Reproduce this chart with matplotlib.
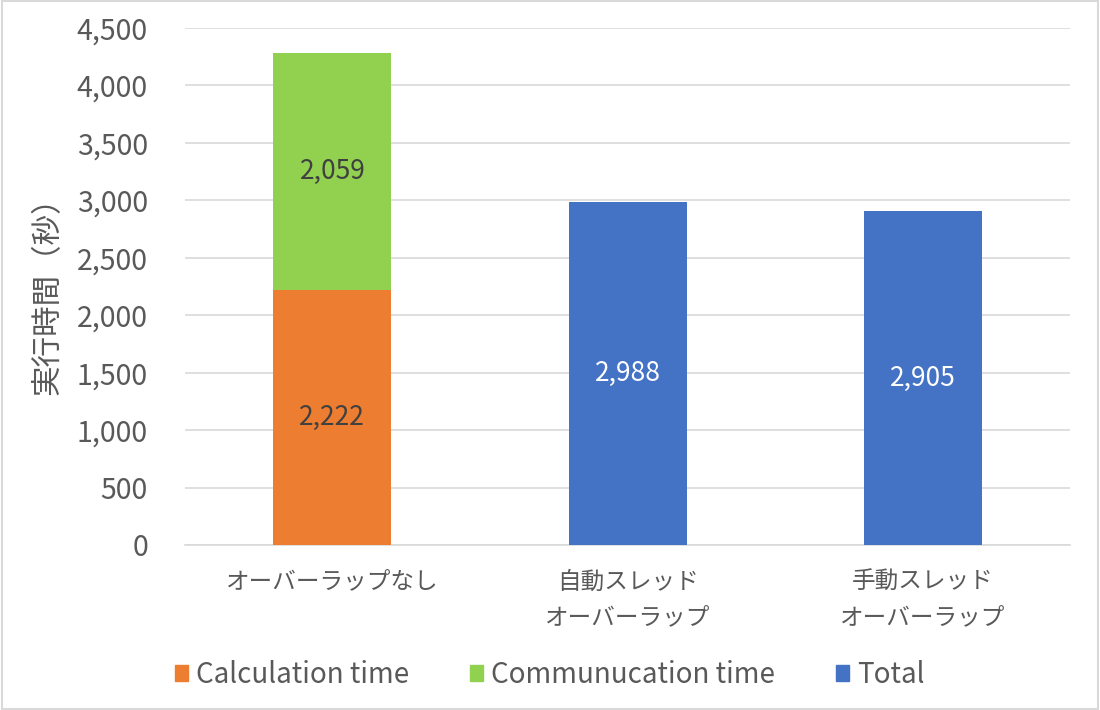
import matplotlib
matplotlib.use("Agg")
import matplotlib.pyplot as plt
from matplotlib.patches import Patch, Rectangle
import numpy as np

plt.rcParams['font.family'] = ['Noto Sans CJK JP', 'DejaVu Sans']

categories = ['オーバーラップなし', '自動スレッド\nオーバーラップ', '手動スレッド\nオーバーラップ']
calc_time = [2222, 0, 0]
comm_time = [2059, 0, 0]
total = [0, 2988, 2905]

c_calc = '#ED7D31'
c_comm = '#92D050'
c_total = '#4472C4'
grey = '#595959'

fig = plt.figure(figsize=(11, 7.1), dpi=100)
ax = fig.add_axes([0.168, 0.2324, 0.805, 0.7282])

x = np.arange(len(categories))
w = 0.4
ax.bar(x, calc_time, w, color=c_calc, zorder=3)
ax.bar(x, comm_time, w, bottom=calc_time, color=c_comm, zorder=3)
ax.bar(x, total, w, color=c_total, zorder=3)

# data labels
for i in range(len(x)):
    if calc_time[i]:
        ax.text(x[i], calc_time[i] / 2, f'{calc_time[i]:,}', ha='center', va='center',
                fontsize=19, color='#404040', zorder=4)
    if comm_time[i]:
        ax.text(x[i], calc_time[i] + comm_time[i] / 2, f'{comm_time[i]:,}', ha='center',
                va='center', fontsize=19, color='#404040', zorder=4)
    if total[i]:
        ax.text(x[i], total[i] / 2, f'{total[i]:,}', ha='center', va='center',
                fontsize=19, color='white', zorder=4)

ax.set_xlim(-0.5, 2.5)
ax.set_ylim(0, 4500)
ax.set_yticks(np.arange(0, 4501, 500))
ax.yaxis.set_major_formatter(matplotlib.ticker.FuncFormatter(lambda v, p: f'{int(v):,}'))
ax.set_xticks(x)
ax.set_xticklabels(categories, fontsize=17, color=grey, linespacing=1.7)
ax.tick_params(axis='y', labelsize=20.5, colors=grey, length=0, pad=26.5)
ax.tick_params(axis='x', length=0, pad=18.5)
ax.grid(axis='y', color='#D9D9D9', linewidth=1.2, zorder=0)
for s in ['top', 'right', 'left']:
    ax.spines[s].set_visible(False)
ax.spines['bottom'].set_color('#D9D9D9')
ax.spines['bottom'].set_linewidth(1.2)
fig.text(48 / 1100, 0.594, '実行時間（秒）', rotation=90, ha='center', va='center',
         fontsize=22, color=grey)

handles = [Patch(color=c_calc), Patch(color=c_comm), Patch(color=c_total)]
labels = ['Calculation time', 'Communucation time', 'Total']
fig.legend(handles, labels, loc='center', bbox_to_anchor=(0.5, 0.049), ncol=3,
           frameon=False, fontsize=20, handlelength=0.45, handleheight=0.5,
           handletextpad=0.3, columnspacing=2.2, labelcolor=grey)

fig.patches.append(Rectangle((0.002, 0.002), 0.996, 0.996, transform=fig.transFigure,
                             fill=False, edgecolor='#D9D9D9', linewidth=1.5))

fig.savefig('out.png', dpi=100)
